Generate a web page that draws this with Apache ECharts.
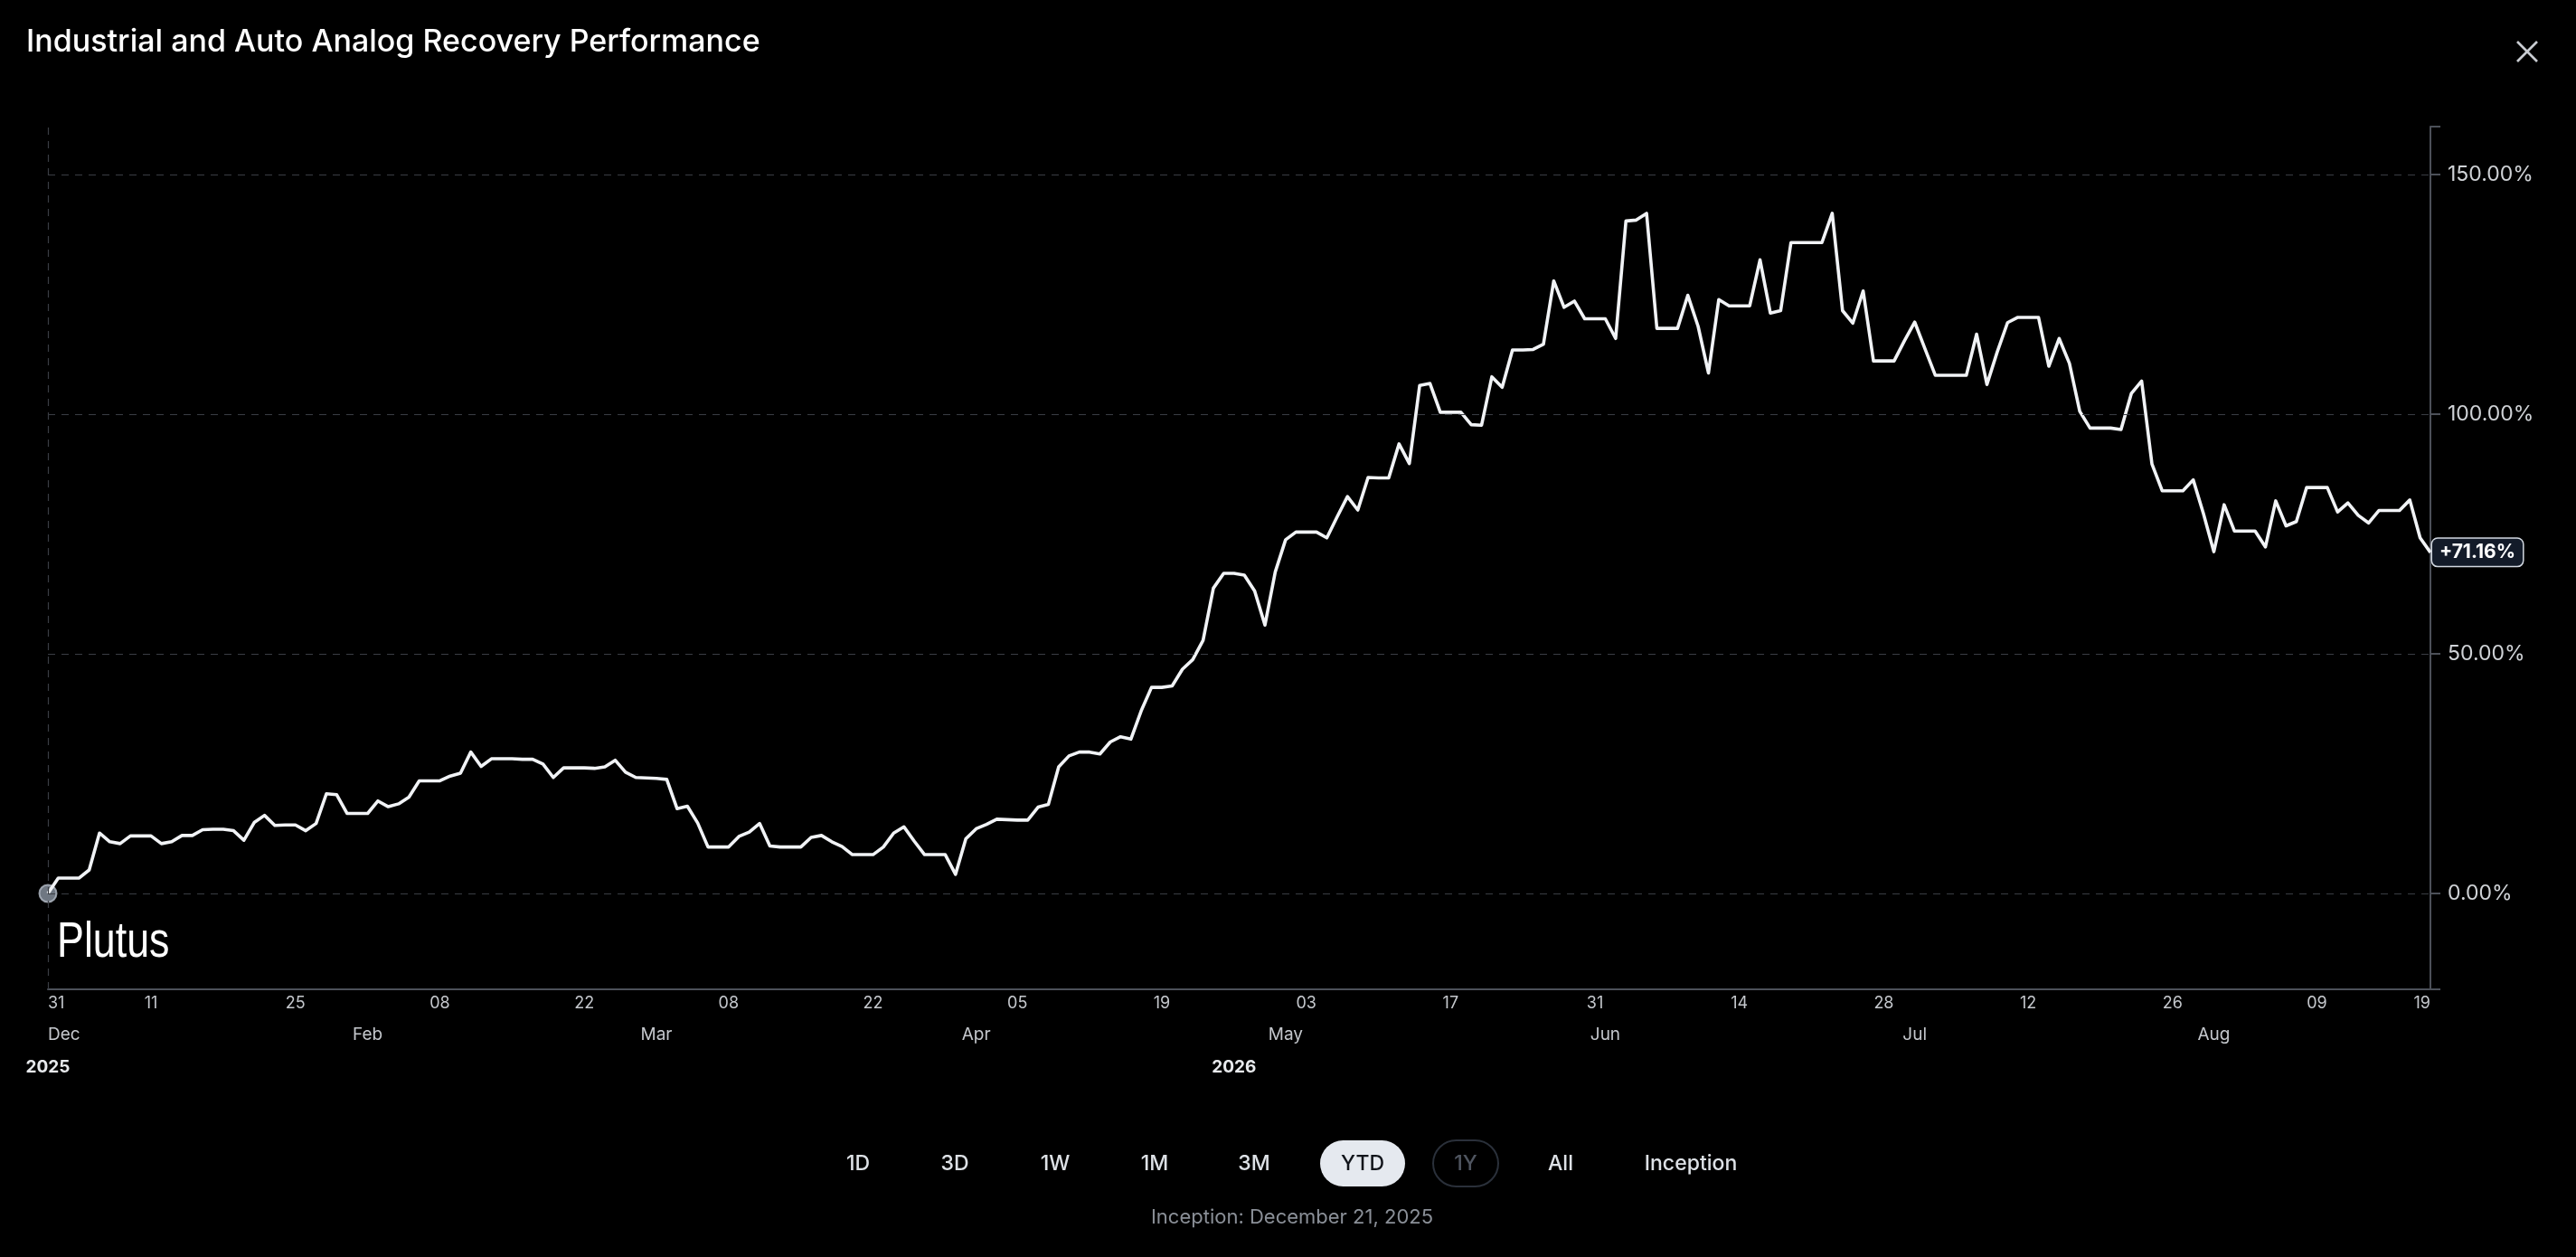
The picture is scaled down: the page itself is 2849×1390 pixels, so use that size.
<!DOCTYPE html>
<html><head><meta charset="utf-8">
<script src="https://cdn.jsdelivr.net/npm/echarts@6/dist/echarts.min.js"></script>
<style>html,body{margin:0;padding:0;background:#000;width:2849px;height:1390px;overflow:hidden}#c{width:2849px;height:1390px}</style>
</head><body><div id="c"></div><script>
// ---------- DATA ----------
const TITLE = 'Industrial and Auto Analog Recovery Performance';
const START_DATE = '2026-01-01';   // daily series, one value per calendar day
const values = [
  0, 3.2, 3.2, 3.2, 4.9, 12.6, 10.8, 10.4, 12.0, 12.0,
  12.0, 10.4, 10.8, 12.1, 12.1, 13.3, 13.4, 13.4, 13.1, 11.1,
  14.8, 16.3, 14.2, 14.3, 14.3, 13.1, 14.6, 20.8, 20.6, 16.7,
  16.7, 16.7, 19.3, 18.1, 18.7, 20.1, 23.5, 23.5, 23.5, 24.5,
  25.1, 29.5, 26.5, 28.1, 28.1, 28.1, 28.0, 28.0, 27.0, 24.2,
  26.2, 26.2, 26.2, 26.1, 26.4, 27.8, 25.3, 24.2, 24.1, 24.0,
  23.8, 17.7, 18.2, 14.7, 9.7, 9.7, 9.7, 11.9, 12.8, 14.6,
  9.9, 9.7, 9.7, 9.7, 11.7, 12.1, 10.8, 9.8, 8.1, 8.1,
  8.1, 9.7, 12.6, 13.9, 10.9, 8.1, 8.1, 8.1, 4.0, 11.4,
  13.5, 14.4, 15.5, 15.4, 15.3, 15.3, 18.0, 18.6, 26.4, 28.7,
  29.5, 29.5, 29.1, 31.6, 32.7, 32.2, 38.1, 43.0, 43.0, 43.3,
  46.8, 48.8, 52.8, 63.7, 66.8, 66.8, 66.4, 63.1, 56.0, 67.1,
  73.8, 75.4, 75.4, 75.4, 74.2, 78.6, 82.8, 80.0, 86.8, 86.7,
  86.7, 93.8, 89.7, 106.0, 106.4, 100.4, 100.4, 100.4, 97.8, 97.7,
  107.8, 105.6, 113.4, 113.4, 113.5, 114.6, 127.8, 122.3, 123.6, 119.9,
  119.9, 119.9, 115.8, 140.3, 140.5, 141.9, 117.9, 117.9, 117.9, 124.8,
  118.3, 108.6, 123.9, 122.6, 122.6, 122.6, 132.2, 121.1, 121.6, 135.8,
  135.8, 135.8, 135.8, 141.9, 121.6, 119.0, 125.7, 111.1, 111.1, 111.1,
  115.3, 119.2, 113.6, 108.1, 108.1, 108.1, 108.1, 116.7, 106.2, 113.0,
  119.1, 120.2, 120.2, 120.2, 110.0, 115.8, 110.6, 100.6, 97.1, 97.1,
  97.1, 96.8, 104.3, 106.9, 89.6, 84.0, 84.0, 84.0, 86.3, 79.2,
  71.3, 81.1, 75.6, 75.6, 75.6, 72.3, 81.9, 76.7, 77.6, 84.7,
  84.7, 84.7, 79.6, 81.5, 78.9, 77.3, 79.9, 79.9, 79.9, 82.1,
  74.2, 71.16
];
const dayTickDates   = ['2026-01-01','2026-01-11','2026-01-25','2026-02-08','2026-02-22','2026-03-08','2026-03-22','2026-04-05','2026-04-19','2026-05-03','2026-05-17','2026-05-31','2026-06-14','2026-06-28','2026-07-12','2026-07-26','2026-08-09','2026-08-20'];
const dayTickLabels  = ['31','11','25','08','22','08','22','05','19','03','17','31','14','28','12','26','09','19'];
const monthTickDates = ['2026-01-01','2026-02-01','2026-03-01','2026-04-01','2026-05-01','2026-06-01','2026-07-01','2026-07-30'];
const monthTickLabels= ['Dec','Feb','Mar','Apr','May','Jun','Jul','Aug'];
const yearTickDates  = ['2026-01-01','2026-04-26'];
const yearTickLabels = ['2025','2026'];
const yLabelValues = [0, 50, 100, 150];
const yTickValues  = [-20, 0, 50, 100, 150, 160];
const Y_MIN = -20, Y_MAX = 160;
const rangeButtons = ['1D','3D','1W','1M','3M','YTD','1Y','All','Inception'];
const activeRange = 'YTD', disabledRange = '1Y';
const inceptionText = 'Inception: December 21, 2025';
const watermark = 'Plutus';

// ---------- LAYOUT ----------
const buttonCenters = [949, 1056, 1167, 1277, 1387, 1507, 1621, 1726, 1870];
const DAY = 86400000;
const t0 = new Date(START_DATE).getTime();
const dates = values.map((v, i) => t0 + i * DAY);
const X_MIN = dates[0], X_MAX = dates[dates.length - 1];
const ms = s => new Date(s).getTime();
const mkFmt = (ds, ls) => { const m = {}; ds.forEach((d, i) => m[ms(d)] = ls[i]); return v => (m[v] !== undefined ? m[v] : ''); };

const FONT = 'Inter, "Noto Sans", sans-serif';
const chart = echarts.init(document.getElementById('c'), null, {renderer: 'canvas'});

const baseX = {
  type: 'value', min: X_MIN, max: X_MAX, gridIndex: 0, position: 'bottom',
  axisLine: {show: false, onZero: false}, axisTick: {show: false}, splitLine: {show: false}
};

const graphics = [];
// watermark
graphics.push({type: 'text', x: 63, y: 1043, scaleX: 0.8, silent: true,
  style: {text: watermark, fill: '#ffffff', font: '56px "Liberation Sans", Arial, sans-serif', textVerticalAlign: 'middle', verticalAlign: 'middle'}});
// close icon
graphics.push({type: 'line', shape: {x1: 2784, y1: 46, x2: 2806, y2: 68}, style: {stroke: '#c9ccd2', lineWidth: 2.6}});
graphics.push({type: 'line', shape: {x1: 2806, y1: 46, x2: 2784, y2: 68}, style: {stroke: '#c9ccd2', lineWidth: 2.6}});
// range buttons
rangeButtons.forEach((b, i) => {
  const cx = buttonCenters[i];
  if (b === activeRange) {
    graphics.push({type: 'rect', shape: {x: cx - 47, y: 1261, width: 94, height: 51, r: 25.5}, style: {fill: '#e5e9ef'}});
  } else if (b === disabledRange) {
    graphics.push({type: 'rect', shape: {x: cx - 36, y: 1261, width: 72, height: 51, r: 25.5}, style: {fill: 'transparent', stroke: '#2a303a', lineWidth: 2}});
  }
  graphics.push({type: 'text', x: cx, y: 1287, style: {
    text: b, font: '500 23px ' + FONT, textAlign: 'center', align: 'center', textVerticalAlign: 'middle', verticalAlign: 'middle',
    fill: b === activeRange ? '#11141a' : (b === disabledRange ? '#4f5560' : '#dde1e6')}});
});
graphics.push({type: 'text', x: 1429, y: 1346, style: {text: inceptionText, font: '22px ' + FONT, textAlign: 'center', align: 'center', textVerticalAlign: 'middle', verticalAlign: 'middle', fill: '#8a8f97'}});

const option = {
  backgroundColor: '#000000',
  animation: false,
  title: {text: TITLE, left: 29, top: 30, padding: 0,
    textStyle: {color: '#ffffff', fontSize: 34, fontWeight: 500, fontFamily: FONT}},
  grid: {left: 53, right: 161, top: 140, bottom: 296, containLabel: false},
  xAxis: [
    Object.assign({}, baseX, {
      axisLine: {show: true, onZero: false, lineStyle: {color: '#4c5059', width: 2}},
      axisLabel: {customValues: dayTickDates.map(ms), formatter: mkFmt(dayTickDates, dayTickLabels),
        color: '#c4c7cc', fontSize: 18, fontFamily: FONT, margin: 7, alignMinLabel: 'left', alignMaxLabel: 'right',
        padding: [0, 0, 0, 0]}
    }),
    Object.assign({}, baseX, {
      axisLabel: {customValues: monthTickDates.map(ms), formatter: mkFmt(monthTickDates, monthTickLabels),
        color: '#c4c7cc', fontSize: 19, fontFamily: FONT, margin: 41, alignMinLabel: 'left'}
    }),
    Object.assign({}, baseX, {
      axisLabel: {customValues: yearTickDates.map(ms), formatter: mkFmt(yearTickDates, yearTickLabels),
        color: '#e8eaed', fontSize: 19, fontWeight: 'bold', fontFamily: FONT, margin: 77, alignMinLabel: 'center'}
    })
  ],
  yAxis: {
    type: 'value', position: 'right', min: Y_MIN, max: Y_MAX, interval: 180,
    axisLine: {show: true, lineStyle: {color: '#4c5059', width: 2}},
    axisTick: {show: true, customValues: yTickValues, length: 11, lineStyle: {color: '#4c5059', width: 2}},
    splitLine: {show: false},
    axisLabel: {customValues: yLabelValues, formatter: v => v.toFixed(2) + '%', color: '#cfd2d6', fontSize: 23, fontFamily: FONT, margin: 19}
  },
  series: [
    {
      type: 'line', xAxisIndex: 0, yAxisIndex: 0, z: 3,
      data: dates.map((d, i) => [d, values[i]]),
      symbol: 'none', showSymbol: false, clip: false,
      lineStyle: {color: '#f1f3f6', width: 3.6, join: 'round'},
      endLabel: {
        show: true, distance: 2,
        formatter: p => (p.value[1] >= 0 ? '+' : '') + p.value[1].toFixed(2) + '%',
        color: '#ffffff', fontWeight: 'bold', fontSize: 21, fontFamily: FONT,
        backgroundColor: '#131b29', borderColor: '#d3d9e2', borderWidth: 1.5, borderRadius: 6,
        padding: [5, 8, 4, 8]
      },
      markLine: {
        silent: true, symbol: ['none', 'none'], label: {show: false},
        lineStyle: {type: [8, 7], color: '#3a3d44', width: 1.2},
        data: yLabelValues.map(v => ({yAxis: v})).concat([{xAxis: X_MIN}])
      }
    },
    {
      type: 'scatter', xAxisIndex: 0, yAxisIndex: 0, z: 2, silent: true,
      data: [[dates[0], values[0]]], symbolSize: 19,
      itemStyle: {color: '#8b95a3', borderColor: '#b4bcc7', borderWidth: 2}
    }
  ],
  graphic: graphics
};
chart.setOption(option);
</script></body></html>
